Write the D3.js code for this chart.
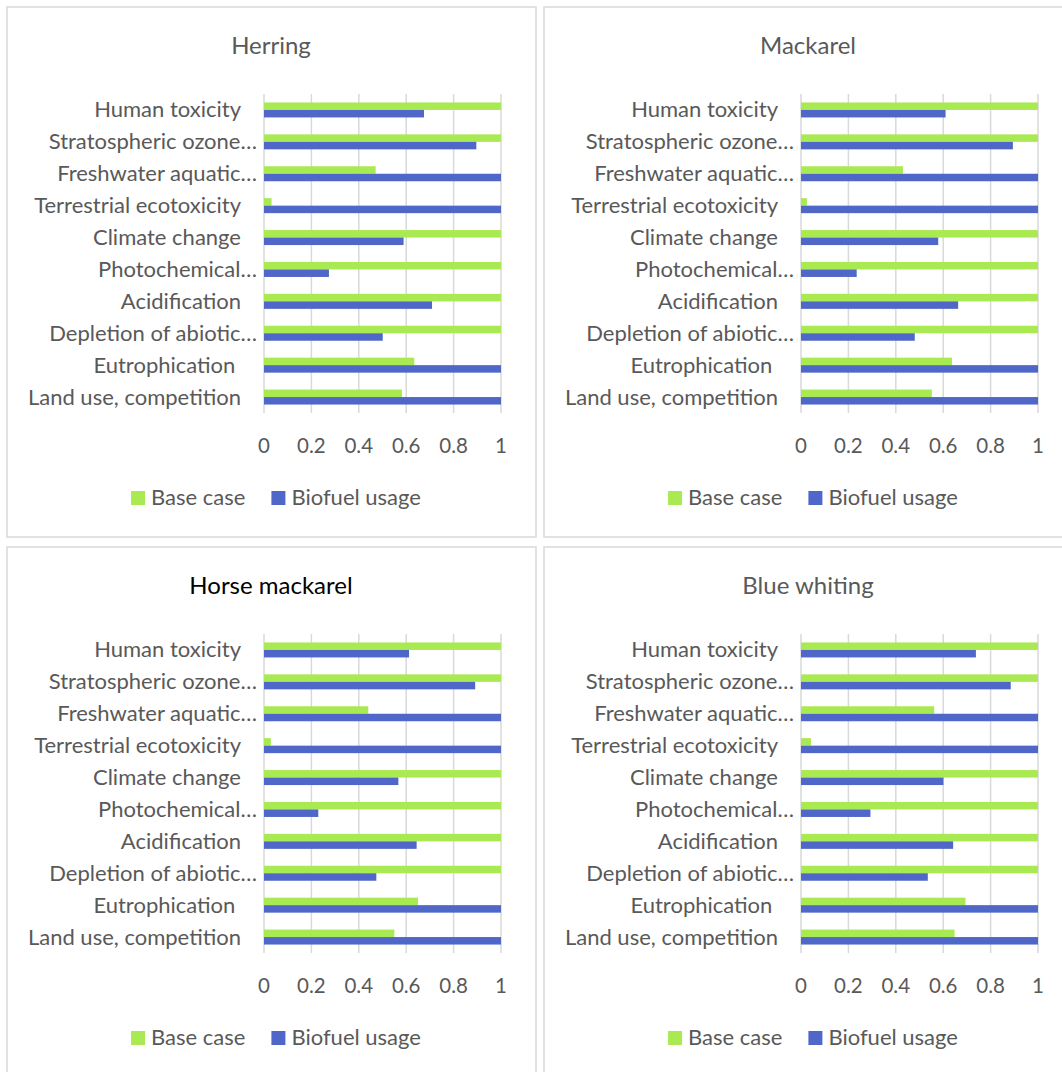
<!DOCTYPE html>
<html>
<head>
<meta charset="utf-8">
<script src="https://cdn.jsdelivr.net/npm/d3@7"></script>
<style>
  html, body { margin: 0; padding: 0; background: #fff; }
  svg { display: block; }
  text { font-family: Lato, "Open Sans", sans-serif; }
</style>
</head>
<body>
<svg id="chart" width="1062" height="1072"></svg>
<script>
// Impact categories, top to bottom (labels as shown on the axis)
const categories = [
  "Human toxicity",
  "Stratospheric ozone…",
  "Freshwater aquatic…",
  "Terrestrial ecotoxicity",
  "Climate change",
  "Photochemical…",
  "Acidification",
  "Depletion of abiotic…",
  "Eutrophication ",
  "Land use, competition"
];

const seriesNames = ["Base case", "Biofuel usage"];
const seriesColors = ["#a9ea52", "#4f67c8"];

const xTicks = [0, 0.2, 0.4, 0.6, 0.8, 1];
const xTickLabels = ["0", "0.2", "0.4", "0.6", "0.8", "1"];

// Normalised impact per category (same order as categories)
const herringBase    = [1, 1, 0.471, 0.032, 1, 1, 1, 1, 0.634, 0.582];
const herringBiofuel = [0.675, 0.896, 1, 1, 0.589, 0.274, 0.709, 0.501, 1, 1];

const mackarelBase    = [1, 1, 0.430, 0.025, 1, 1, 1, 1, 0.637, 0.552];
const mackarelBiofuel = [0.610, 0.894, 1, 1, 0.579, 0.235, 0.663, 0.480, 1, 1];

const horseBase    = [1, 1, 0.440, 0.029, 1, 1, 1, 1, 0.650, 0.550];
const horseBiofuel = [0.612, 0.891, 1, 1, 0.567, 0.229, 0.644, 0.474, 1, 1];

const blueBase    = [1, 1, 0.562, 0.042, 1, 1, 1, 1, 0.694, 0.648];
const blueBiofuel = [0.738, 0.885, 1, 1, 0.601, 0.293, 0.642, 0.535, 1, 1];

const panels = [
  { title: "Herring",        base: herringBase,  bio: herringBiofuel,  col: 0, row: 0, titleColor: "#595959" },
  { title: "Mackarel",       base: mackarelBase, bio: mackarelBiofuel, col: 1, row: 0, titleColor: "#595959" },
  { title: "Horse mackarel", base: horseBase,    bio: horseBiofuel,    col: 0, row: 1, titleColor: "#000000" },
  { title: "Blue whiting",   base: blueBase,     bio: blueBiofuel,     col: 1, row: 1, titleColor: "#595959" }
];

// Panel geometry (local coordinates)
const panelW = 529, panelH = 530;
const panelDX = 537, panelDY = 540;
const originX = 7, originY = 7;
const plotLeft = 257, plotRight = 494;   // local x of value 0 and 1
const plotTop = 87, plotBottom = 406;
const textGray = "#595959";
const gridGray = "#d9d9d9";
const labelSize = 22;

const svg = d3.select("#chart");

const x = d3.scaleLinear().domain([0, 1]).range([plotLeft, plotRight]);
const y = d3.scaleBand().domain(categories).range([plotTop, plotBottom])
  .paddingInner(0.53).paddingOuter(0.265);
const ySub = d3.scaleBand().domain(seriesNames).range([0, y.bandwidth()]);

panels.forEach(p => {
  const g = svg.append("g")
    .attr("transform", `translate(${originX + p.col * panelDX},${originY + p.row * panelDY})`);

  // panel frame
  g.append("rect")
    .attr("x", 0).attr("y", 0)
    .attr("width", panelW).attr("height", panelH)
    .attr("fill", "#fff")
    .attr("stroke", gridGray).attr("stroke-width", 1.5);

  // title
  g.append("text")
    .attr("x", panelW / 2 - 0.5).attr("y", 47)
    .attr("text-anchor", "middle")
    .attr("font-size", 24)
    .attr("fill", p.titleColor)
    .text(p.title);

  // vertical gridlines
  g.append("g").selectAll("line").data(xTicks).join("line")
    .attr("x1", d => x(d)).attr("x2", d => x(d))
    .attr("y1", plotTop).attr("y2", plotBottom)
    .attr("stroke", gridGray).attr("stroke-width", 1.5);

  // x tick labels
  g.append("g").selectAll("text").data(xTicks).join("text")
    .attr("x", d => x(d)).attr("y", 438)
    .attr("text-anchor", "middle")
    .attr("dominant-baseline", "central")
    .attr("font-size", 20.5)
    .attr("fill", textGray)
    .text((d, i) => xTickLabels[i]);

  // category labels
  g.append("g").selectAll("text").data(categories).join("text")
    .attr("x", d => d.endsWith("…") ? plotLeft - 7 : plotLeft - 23)
    .attr("y", d => y(d) + y.bandwidth() / 2 - 1)
    .attr("text-anchor", "end")
    .attr("dominant-baseline", "central")
    .attr("font-size", labelSize)
    .attr("fill", textGray)
    .style("white-space", "pre")
    .text(d => d);

  // bars
  const rows = categories.map((c, i) => ({ c, vals: [p.base[i], p.bio[i]] }));
  const rowG = g.append("g").selectAll("g").data(rows).join("g")
    .attr("transform", d => `translate(0,${y(d.c)})`);
  rowG.selectAll("rect")
    .data(d => d.vals.map((v, k) => ({ v, s: seriesNames[k], k })))
    .join("rect")
    .attr("x", x(0))
    .attr("y", d => ySub(d.s))
    .attr("width", d => x(d.v) - x(0))
    .attr("height", ySub.bandwidth())
    .attr("fill", d => seriesColors[d.k]);

  // legend, centred under the plot
  const lg = g.append("g");
  const items = lg.selectAll("g").data(seriesNames).join("g");
  items.append("rect")
    .attr("width", 14).attr("height", 14)
    .attr("y", 484)
    .attr("fill", (d, i) => seriesColors[i]);
  items.append("text")
    .attr("x", 20).attr("y", 489.5)
    .attr("dominant-baseline", "central")
    .attr("font-size", labelSize)
    .attr("fill", textGray)
    .text(d => d);
  let cx = 0;
  items.each(function () {
    d3.select(this).attr("transform", `translate(${cx},0)`);
    cx += 20 + this.querySelector("text").getComputedTextLength() + 26;
  });
  const total = cx - 26;
  lg.attr("transform", `translate(${panelW / 2 + 4.5 - total / 2},0)`);
});
</script>
</body>
</html>
